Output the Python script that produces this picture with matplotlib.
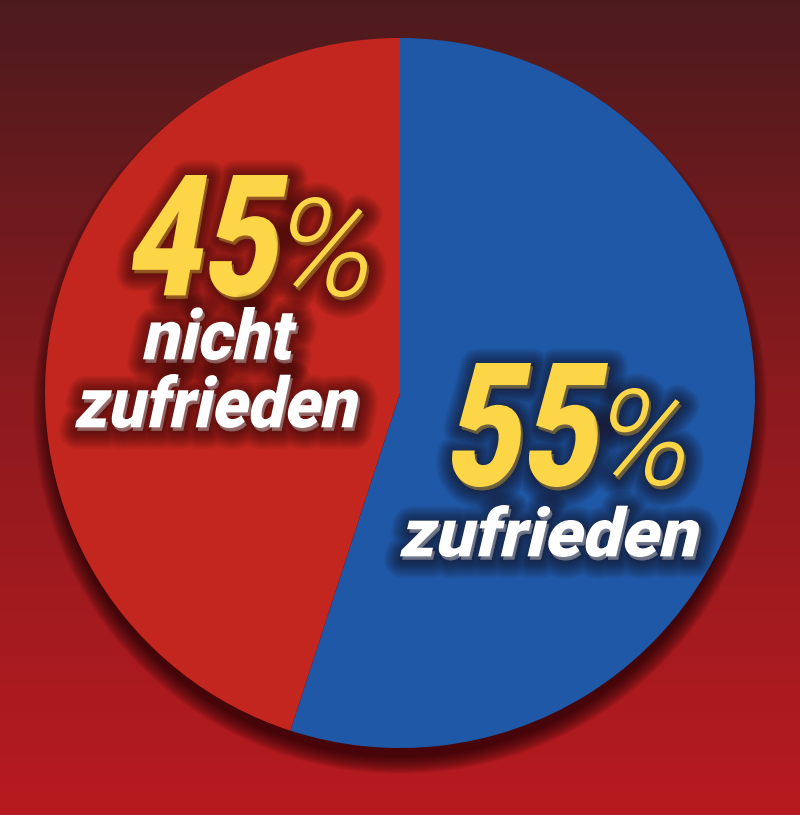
import numpy as np
import matplotlib
matplotlib.use("Agg")
import matplotlib.pyplot as plt
import matplotlib.patheffects as pe
from matplotlib.colors import LinearSegmentedColormap
from matplotlib.font_manager import FontProperties
from matplotlib.textpath import TextPath
from matplotlib.patches import PathPatch, Circle
from matplotlib.transforms import Affine2D

# data
labels = ["zufrieden", "nicht zufrieden"]
shares = [55, 45]
slice_colors = ["#1f58a6", "#c3261f"]

W, H = 800, 815
YELLOW = "#fdd648"

fig = plt.figure(figsize=(W / 100, H / 100), dpi=100)
ax = fig.add_axes([0, 0, 1, 1])

# background gradient, dark maroon on top to red at bottom
bg = LinearSegmentedColormap.from_list("bg", ["#b71a20", "#8e1a1e", "#4c1a1d"])
grad = np.linspace(0, 1, 256).reshape(-1, 1)
ax.imshow(grad, cmap=bg, extent=[0, W, 0, H], aspect="auto", origin="lower", zorder=0)

cx, cy, r = 400, H - 393, 355

# soft drop shadow, mostly below the pie
for k in range(18):
    ax.add_patch(Circle((cx, cy - 14), r + 12 - k, color="#1a0406", alpha=0.06, lw=0, zorder=1))

ax.pie(shares, colors=slice_colors, startangle=90, counterclock=False,
       center=(cx, cy), radius=r, wedgeprops=dict(linewidth=0, zorder=2))

# blurred dark shadow behind the words
glow = [pe.Stroke(offset=(1.5, -2.5), linewidth=w, foreground="#160406", alpha=0.055,
                  joinstyle="round", capstyle="round")
        for w in range(26, 1, -2)] + [pe.Normal()]

bold = FontProperties(family="Roboto", weight=900)
light = FontProperties(family="Roboto", weight=300)


def draw_word(s, box, color, prop):
    # box is left, right, top, bottom in picture pixels
    tp = TextPath((0, 0), s, size=100, prop=prop)
    tp = Affine2D().skew_deg(13, 0).transform_path(tp)
    bb = tp.get_extents()
    x0, x1, yt, yb = box
    tr = (Affine2D().translate(-bb.x0, -bb.y0)
          .scale((x1 - x0) / bb.width, (yb - yt) / bb.height)
          .translate(x0, H - yb))
    ax.add_patch(PathPatch(tr.transform_path(tp), facecolor=color, edgecolor="none",
                           path_effects=glow, zorder=5))


# red slice labels
draw_word(str(shares[1]), (132, 288, 175, 297), YELLOW, bold)
draw_word("%", (290, 367, 197, 297), YELLOW, light)
draw_word("nicht", (143, 297, 307, 360), "white", bold)
draw_word("zufrieden", (75, 358, 374, 428), "white", bold)

# blue slice labels
draw_word(str(shares[0]), (452, 608, 363, 487), YELLOW, bold)
draw_word("%", (610, 684, 388, 486), YELLOW, light)
draw_word(labels[0], (400, 699, 505, 557), "white", bold)

ax.set_xlim(0, W)
ax.set_ylim(0, H)
ax.set_aspect("auto")
ax.axis("off")

fig.savefig("out.png", dpi=100)
